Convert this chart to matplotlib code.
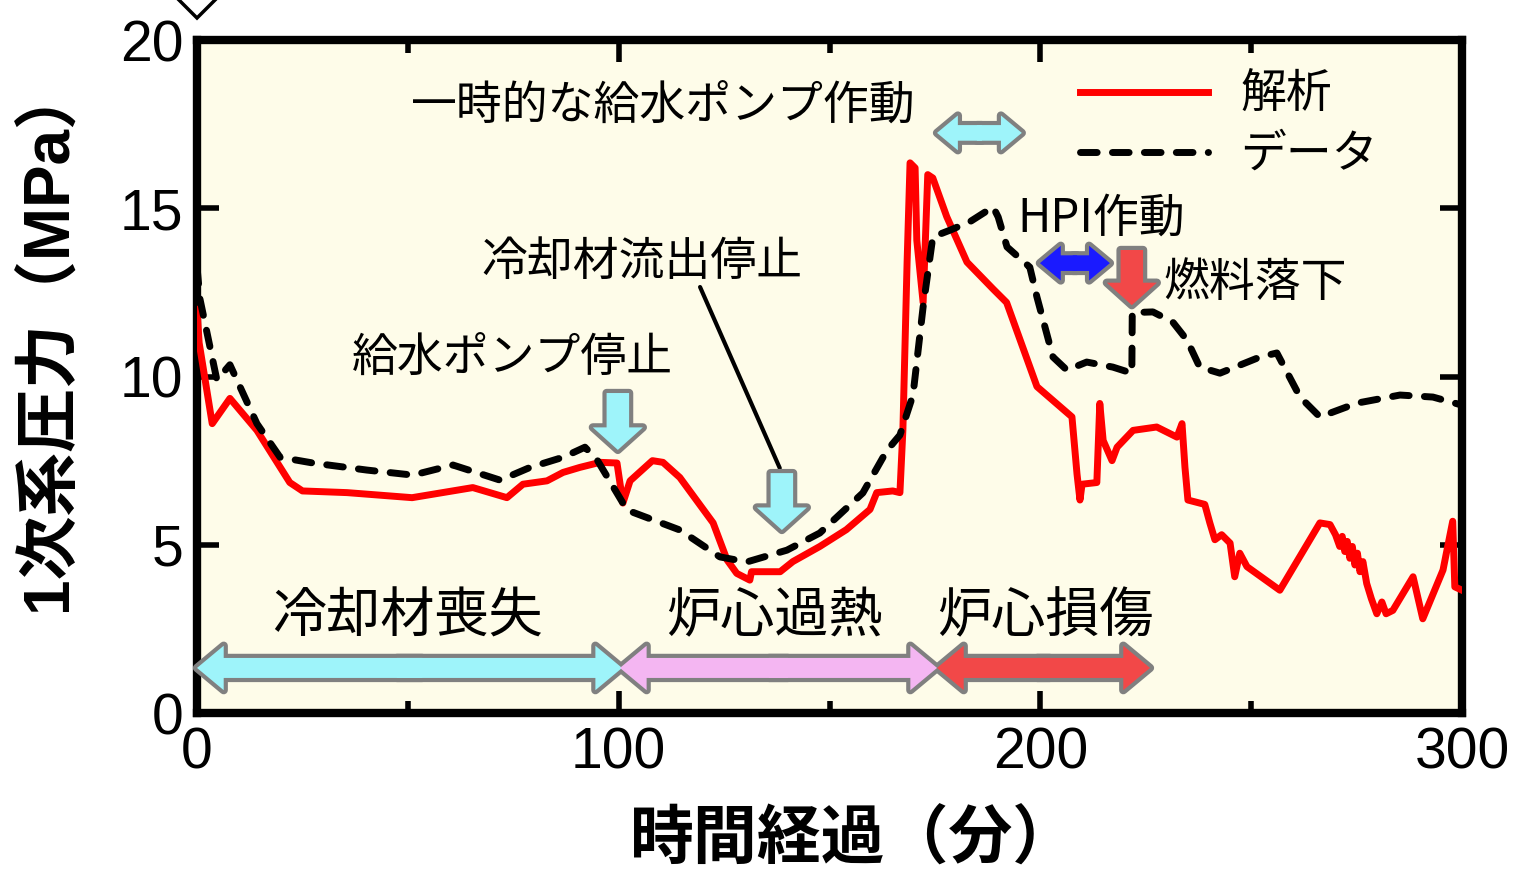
import matplotlib
matplotlib.use('Agg')
import matplotlib.pyplot as plt
from matplotlib.patches import FancyArrowPatch, RegularPolygon

# data
t_calc = [0, 0.5, 3.6, 7.8, 14.2, 22, 25, 35.6, 51, 65.4, 73.5, 77.3, 83, 86.8, 90.8,
          95.6, 99.6, 101, 102.7, 108, 110.5, 114.5, 122.4, 125.7, 128, 131.1, 131.5,
          138.3, 141.3, 147.7, 154, 159.6, 161.2, 165, 166.7, 167.4, 168.4, 169.1,
          170.3, 170.7, 172.2, 173.3, 174.5, 177.8, 182.6, 188.8, 192, 199.2, 207.5,
          208.7, 209.4, 209.9, 213.4, 214.1, 214.9, 217, 218.2, 222, 227.6, 232.4,
          233.6, 234.3, 235, 239, 240.2, 241.4, 243, 245, 246.1, 247.3, 249, 256.8,
          266.3, 268.7, 270, 271, 271.6, 272.2, 272.8, 273.4, 274, 274.6, 275.2,
          275.8, 276.5, 277.4, 278.5, 279.8, 281, 282, 283.6, 288.4, 290.7, 295.5,
          297.8, 298.3, 300]
p_calc = [12.0, 11.0, 8.6, 9.35, 8.4, 6.85, 6.6, 6.55, 6.4, 6.7, 6.4, 6.8, 6.9, 7.15, 7.3,
          7.45, 7.43, 6.24, 6.9, 7.5, 7.45, 7.0, 5.65, 4.55, 4.15, 3.95, 4.2,
          4.2, 4.5, 4.95, 5.45, 6.05, 6.55, 6.6, 6.55, 8.4, 13.4, 16.35,
          16.2, 14.05, 12.2, 16.0, 15.9, 14.75, 13.4, 12.6, 12.2, 9.7, 8.8,
          7.1, 6.33, 6.8, 6.85, 9.2, 8.1, 7.5, 7.9, 8.4, 8.5, 8.2,
          8.6, 7.3, 6.33, 6.2, 5.65, 5.15, 5.3, 5.05, 4.05, 4.75, 4.35, 3.65,
          5.65, 5.6, 5.3, 4.95, 5.25, 4.8, 5.1, 4.6, 4.95, 4.4, 4.75,
          4.2, 4.5, 3.85, 3.4, 2.95, 3.3, 2.95, 3.05, 4.05, 2.8, 4.25,
          5.7, 3.75, 3.65]

t_data = [0, 0.7, 4.7, 7.8, 14.2, 19.7, 27.5, 40.3, 51.2, 60.7, 71.9, 79, 86.8, 92, 94.9,
          102, 114.5, 124, 130.4, 139.9, 147.7, 157.9, 163.6, 166.7, 169.8, 172.2,
          174.5, 178.6, 183.3, 188.8, 190, 192.1, 197.5, 199.2, 203, 206.3, 211,
          217.2, 221.7, 221.8, 226.7, 231.4, 234.8, 237.8, 242.6, 252.1, 256.1,
          261.6, 266.3, 275.1, 285.3, 293.1, 300]
p_data = [13.25, 12.3, 9.9, 10.35, 8.6, 7.6, 7.43, 7.22, 7.07, 7.37, 6.92, 7.3, 7.6, 7.9, 7.52,
          6.03, 5.44, 4.64, 4.49, 4.84, 5.35, 6.54, 7.8, 8.26, 9.45, 12.07,
          14.15, 14.35, 14.6, 15.04, 14.74, 13.85, 13.25, 12.36, 10.58, 10.19, 10.43,
          10.28, 10.1, 11.9, 11.92, 11.62, 11.08, 10.28, 10.1, 10.58, 10.7,
          9.39, 8.8, 9.21, 9.45, 9.39, 9.15]

x_ticks = [0, 100, 200, 300]
y_ticks = [0, 5, 10, 15, 20]

JP = ['Noto Sans CJK JP', 'DejaVu Sans']
LAT_JP = ['Liberation Sans', 'Noto Sans CJK JP']
CYAN = '#9ef4fa'
PINK = '#f4b6f2'
RED = '#f24848'
BLUE = '#1a1aff'
GRAY = '#808080'

fig = plt.figure(figsize=(15.18, 8.72), dpi=100)
ax = fig.add_axes([0.1298, 0.1823, 0.8333, 0.7718])
ax.set_facecolor('#fefce9')

ax.plot(t_calc, p_calc, color='#ff0000', lw=5, label='解析', zorder=3)
ax.plot(t_data, p_data, color='black', lw=5, linestyle=(0, (2.4, 2.2)),
        dash_capstyle='round', label='データ', zorder=3)

ax.set_xlim(0, 300)
ax.set_ylim(0, 20)
ax.set_xticks(x_ticks)
ax.set_xticks([50, 150, 250], minor=True)
ax.set_yticks(y_ticks)
ax.tick_params(which='both', direction='in', top=True, right=True, width=4, pad=10)
ax.tick_params(which='major', length=16)
ax.tick_params(which='minor', length=9)
for lab in ax.get_xticklabels() + ax.get_yticklabels():
    lab.set_fontfamily(['Liberation Sans', 'DejaVu Sans'])
    lab.set_fontsize(41)
for s in ax.spines.values():
    s.set_linewidth(6)

ax.set_xlabel('時間経過（分）', family=JP, fontsize=46, fontweight='bold')
ax.set_ylabel('1次系圧力（MPa）', family=LAT_JP, fontsize=46, fontweight='bold')
ax.xaxis.set_label_coords(0.519, -0.14)
ax.yaxis.set_label_coords(-0.093, 0.56)


def block_arrow(x0, y0, x1, y1, color, size, both=False, head=0.6):
    style = 'simple,head_length=%g,head_width=1.0,tail_width=0.45' % head
    if both:
        # two halves from the middle, overlapping a little so no seam shows
        xa, ya = x0 + 0.53 * (x1 - x0), y0 + 0.53 * (y1 - y0)
        xb, yb = x0 + 0.47 * (x1 - x0), y0 + 0.47 * (y1 - y0)
        segs = [((xa, ya), (x0, y0)), ((xb, yb), (x1, y1))]
    else:
        segs = [((x0, y0), (x1, y1))]
    # outline first, then plain fill on top
    for ec, lw, z in [(GRAY, 6, 5), ('none', 0, 6)]:
        for a, b in segs:
            ax.add_patch(FancyArrowPatch(a, b, arrowstyle=style, mutation_scale=size,
                                         fc=color, ec=ec, lw=lw, shrinkA=0, shrinkB=0,
                                         zorder=z, clip_on=False))


# phases
block_arrow(0, 1.34, 100.8, 1.34, CYAN, 32, both=True)
block_arrow(100.3, 1.34, 175.5, 1.34, PINK, 32, both=True)
block_arrow(175.5, 1.34, 226, 1.34, RED, 32, both=True)
ax.text(50.0, 2.85, '冷却材喪失', family=JP, fontsize=39, ha='center', va='center')
ax.text(137, 2.85, '炉心過熱', family=JP, fontsize=39, ha='center', va='center')
ax.text(201.3, 2.85, '炉心損傷', family=JP, fontsize=39, ha='center', va='center')

# events
ax.text(110.5, 18.07, '一時的な給水ポンプ作動', family=JP, fontsize=33, ha='center', va='center')
block_arrow(175.5, 17.24, 195.6, 17.24, CYAN, 25, both=True)
ax.text(214.4, 14.71, 'HPI作動', family=JP, fontsize=33, ha='center', va='center')
block_arrow(199.9, 13.37, 216.5, 13.37, BLUE, 25, both=True)
block_arrow(221.7, 13.76, 221.7, 12.12, RED, 36, head=0.45)
ax.text(229.1, 12.78, '燃料落下', family=JP, fontsize=33, ha='left', va='center')
ax.text(105.5, 13.4, '冷却材流出停止', family=JP, fontsize=33, ha='center', va='center')
ax.annotate('', xy=(138.2, 7.28), xytext=(119.3, 12.66),
            arrowprops=dict(arrowstyle='-', lw=3, color='black', shrinkA=0, shrinkB=0))
block_arrow(138.7, 7.13, 138.7, 5.44, CYAN, 36, head=0.45)
ax.text(74.7, 10.55, '給水ポンプ停止', family=JP, fontsize=33, ha='center', va='center')
block_arrow(99.8, 9.51, 99.8, 7.82, CYAN, 36, head=0.45)

ax.legend(loc='upper left', bbox_to_anchor=(0.698, 0.955), frameon=False,
          prop=dict(family=JP, size=33), handlelength=2.8, handletextpad=0.7,
          labelspacing=0.25, borderpad=0, borderaxespad=0)

# clipped marker above the top-left corner
fig.add_artist(RegularPolygon((1.97, 8.74), numVertices=4, radius=0.2,
                              transform=fig.dpi_scale_trans, fc='white', ec='black',
                              lw=2.5, clip_on=False))

fig.savefig('out.png', dpi=100)
